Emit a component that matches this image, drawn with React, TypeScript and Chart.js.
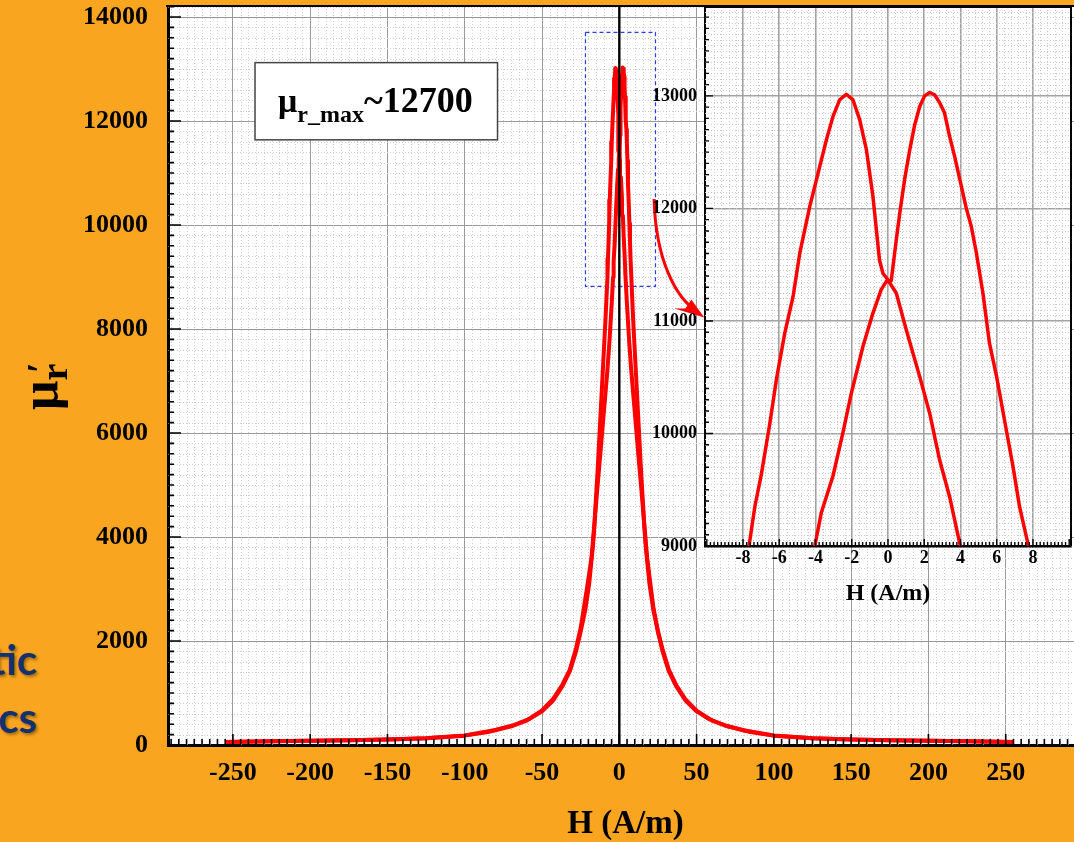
import React, { useEffect, useRef } from "react";
import { Chart, registerables } from "chart.js";

Chart.register(...registerables);

const SERIF = "'Liberation Serif', 'Times New Roman', serif";

// ---- data: branch with field increasing (peak near +2.3 A/m)
const upH = [-255, -225, -200, -175, -150, -125, -100, -85, -70, -60, -50, -43, -37, -32, -28, -25, -22, -19.5, -17, -15.7, -14.3, -13, -11.7, -10.3, -9, -7.6, -6.3, -5, -4.04, -3.68, -3.04, -2.49, -2.02, -1.38, -0.83, -0.37, -0.1, 0.18, 0.46, 0.65, 0.92, 1.2, 1.47, 1.75, 2.02, 2.3, 2.57, 2.85, 3.12, 3.4, 3.68, 3.96, 4.3, 4.6, 4.88, 5.24, 5.6, 6.0, 6.53, 6.9, 7.26, 7.72, 9, 10.5, 12.6, 14, 16, 18, 22, 25, 28, 32, 37, 43, 50, 58, 69, 80, 100, 125, 150, 175, 200, 225, 255];
const upMu = [60, 70, 80, 90, 104, 128, 180, 250, 360, 470, 650, 850, 1120, 1420, 1800, 2180, 2600, 3100, 3850, 4400, 4900, 5350, 5800, 6300, 6750, 7250, 7800, 8450, 9000, 9296, 9620, 10006, 10360, 10775, 11070, 11280, 11350, 11360, 11725, 11960, 12260, 12520, 12740, 12905, 13000, 13030, 13010, 12940, 12850, 12640, 12460, 12260, 12015, 11838, 11602, 11246, 10802, 10500, 10031, 9705, 9349, 9024, 8150, 7300, 6100, 5300, 4300, 3600, 2650, 2180, 1840, 1450, 1140, 870, 660, 500, 370, 285, 182, 130, 105, 90, 80, 70, 60];

// ---- data: branch with field decreasing (peak near -2.3 A/m)
const downH = [255, 225, 200, 175, 150, 125, 100, 85, 70, 60, 50, 43, 37, 32, 28, 25, 22, 19.5, 17, 15.7, 14.3, 13, 11.7, 10.3, 9, 7.6, 6.3, 5, 3.96, 3.4, 2.85, 2.3, 1.75, 1.01, 0.46, 0, -0.28, -0.47, -0.83, -1.19, -1.56, -1.93, -2.3, -2.67, -3.04, -3.4, -3.86, -4.32, -4.87, -5.24, -5.7, -6.16, -6.52, -6.98, -7.35, -7.67, -9, -10.5, -12.6, -14, -16, -18, -21, -25, -28, -32, -37, -43, -50, -58, -69, -80, -100, -125, -150, -175, -200, -225, -255];
const downMu = [60, 70, 80, 90, 104, 128, 180, 250, 360, 470, 650, 850, 1120, 1420, 1800, 2180, 2600, 3100, 3850, 4400, 4900, 5350, 5800, 6300, 6750, 7250, 7800, 8450, 9024, 9438, 9764, 10180, 10505, 10920, 11246, 11364, 11424, 11542, 12105, 12520, 12787, 12964, 13015, 12964, 12816, 12609, 12313, 12016, 11602, 11216, 10890, 10480, 10091, 9646, 9349, 9000, 8150, 7300, 6100, 5300, 4300, 3600, 3000, 2250, 1860, 1450, 1150, 880, 665, 505, 375, 290, 185, 130, 105, 90, 80, 70, 60];

// ---- tick labels
const mainXTicks = [-250, -200, -150, -100, -50, 0, 50, 100, 150, 200, 250];
const mainYTicks = [0, 2000, 4000, 6000, 8000, 10000, 12000, 14000];
const insetXTicks = [-8, -6, -4, -2, 0, 2, 4, 6, 8];
const insetYTicks = [9000, 10000, 11000, 12000, 13000];

// ---- zoom window marker and H = 0 line (data coordinates)
const zoomBoxH = [-21.9, 23.4, 23.4, -21.9, -21.9];
const zoomBoxMu = [13706, 13706, 8821, 8821, 13706];
const zeroLineH = [0, 0];
const zeroLineMu = [0, 14212];

const pts = (xs: number[], ys: number[]) => xs.map((x, i) => ({ x, y: ys[i] }));
const isMultiple = (v: number, m: number) => Math.abs(v / m - Math.round(v / m)) < 1e-6;

function fillArea(chart: any) {
  const { ctx, chartArea: a } = chart;
  ctx.save();
  ctx.fillStyle = "#ffffff";
  ctx.fillRect(a.left, a.top, a.right - a.left, a.bottom - a.top);
  ctx.restore();
}

function drawDottedGrid(chart: any, xStep: number, xMajor: number, yStep: number, yMajor: number, color: string) {
  const { ctx, chartArea: a, scales } = chart;
  const x = scales.x, y = scales.y;
  ctx.save();
  ctx.beginPath();
  ctx.rect(a.left, a.top, a.right - a.left, a.bottom - a.top);
  ctx.clip();
  ctx.strokeStyle = color;
  ctx.lineWidth = 1;
  ctx.setLineDash([1, 2]);
  ctx.beginPath();
  for (let i = Math.ceil(x.min / xStep); i * xStep <= x.max; i++) {
    const v = i * xStep;
    if (isMultiple(v, xMajor)) continue;
    const px = Math.round(x.getPixelForValue(v)) + 0.5;
    ctx.moveTo(px, a.top);
    ctx.lineTo(px, a.bottom);
  }
  for (let i = Math.ceil(y.min / yStep); i * yStep <= y.max; i++) {
    const v = i * yStep;
    if (isMultiple(v, yMajor)) continue;
    const py = Math.round(y.getPixelForValue(v)) + 0.5;
    ctx.moveTo(a.left, py);
    ctx.lineTo(a.right, py);
  }
  ctx.stroke();
  ctx.restore();
}

function drawInwardTicks(chart: any, o: any) {
  const { ctx, chartArea: a, scales } = chart;
  const x = scales.x, y = scales.y;
  ctx.save();
  ctx.strokeStyle = "#000";
  ctx.lineWidth = o.width;
  ctx.beginPath();
  for (let i = Math.ceil(x.min / o.xMinor); i * o.xMinor <= x.max; i++) {
    const v = i * o.xMinor;
    const len = isMultiple(v, o.xMajor) ? o.xMajLen : o.xMinLen;
    const px = x.getPixelForValue(v);
    ctx.moveTo(px, a.bottom);
    ctx.lineTo(px, a.bottom - len);
  }
  for (let i = Math.ceil(y.min / o.yMinor); i * o.yMinor <= y.max; i++) {
    const v = i * o.yMinor;
    const len = isMultiple(v, o.yMajor) ? o.yMajLen : o.yMinLen;
    const py = y.getPixelForValue(v);
    ctx.moveTo(a.left, py);
    ctx.lineTo(a.left + len, py);
  }
  ctx.stroke();
  ctx.restore();
}

const mainPlugin = {
  id: "mainDecor",
  beforeDraw(chart: any) {
    fillArea(chart);
  },
  beforeDatasetsDraw(chart: any) {
    drawDottedGrid(chart, 5, 50, 200, 2000, "#cdcdcd");
  },
  afterDatasetsDraw(chart: any) {
    const { ctx, chartArea: a, scales } = chart;
    const x = scales.x, y = scales.y;
    drawInwardTicks(chart, { xMinor: 5, xMajor: 50, yMinor: 200, yMajor: 2000, xMinLen: 6, xMajLen: 11, yMinLen: 6, yMajLen: 13, width: 1.6 });
    // top frame line
    ctx.save();
    ctx.strokeStyle = "#000";
    ctx.lineWidth = 2;
    ctx.beginPath();
    ctx.moveTo(a.left - 2, a.top);
    ctx.lineTo(a.right, a.top);
    ctx.stroke();
    ctx.restore();

    // curved red arrow pointing at the inset
    const P = (h: number, m: number) => [x.getPixelForValue(h), y.getPixelForValue(m)];
    const [sx, sy] = P(22.5, 10500);
    const [c1x, c1y] = P(23.5, 9350);
    const [c2x, c2y] = P(36, 8600);
    const [ex, ey] = P(55, 8220);
    ctx.save();
    ctx.strokeStyle = "#ff0000";
    ctx.fillStyle = "#ff0000";
    ctx.lineWidth = 3;
    ctx.beginPath();
    ctx.moveTo(sx, sy);
    ctx.bezierCurveTo(c1x, c1y, c2x, c2y, ex - 6, ey - 5);
    ctx.stroke();
    ctx.beginPath();
    ctx.moveTo(ex, ey);
    ctx.lineTo(ex - 30, ey - 9);
    ctx.lineTo(ex - 19, ey - 9);
    ctx.lineTo(ex - 13, ey - 18);
    ctx.closePath();
    ctx.fill();
    ctx.restore();

    // annotation box
    const [bl, bt] = P(-235.7, 13123);
    const [br, bb] = P(-78.8, 11638);
    ctx.save();
    ctx.fillStyle = "#ffffff";
    ctx.fillRect(bl, bt, br - bl, bb - bt);
    ctx.strokeStyle = "#444";
    ctx.lineWidth = 1.5;
    ctx.strokeRect(bl, bt, br - bl, bb - bt);
    ctx.fillStyle = "#000";
    ctx.textBaseline = "alphabetic";
    ctx.textAlign = "left";
    let tx = bl + 23;
    const base = bt + 49;
    ctx.font = `bold 34px ${SERIF}`;
    ctx.fillText("μ", tx, base);
    tx += ctx.measureText("μ").width;
    ctx.font = `bold 24px ${SERIF}`;
    ctx.fillText("r_max", tx, base + 10);
    tx += ctx.measureText("r_max").width;
    ctx.font = `bold 36px ${SERIF}`;
    ctx.fillText("~12700", tx, base);
    ctx.restore();
  },
  afterDraw(chart: any) {
    const { ctx } = chart;
    ctx.save();
    ctx.translate(57, 410);
    ctx.rotate(-Math.PI / 2);
    ctx.fillStyle = "#000";
    ctx.textAlign = "left";
    ctx.textBaseline = "alphabetic";
    ctx.font = `bold 52px ${SERIF}`;
    ctx.fillText("μ", 0, 0);
    const w = ctx.measureText("μ").width;
    ctx.font = `bold 38px ${SERIF}`;
    ctx.fillText("r", w, 10);
    const w2 = ctx.measureText("r").width;
    ctx.fillText("′", w + w2 * 0.45, -4);
    ctx.restore();
  },
};

const insetPlugin = {
  id: "insetDecor",
  beforeDraw(chart: any) {
    fillArea(chart);
  },
  beforeDatasetsDraw(chart: any) {
    drawDottedGrid(chart, 0.4, 2, 50, 1000, "#c8c8c8");
  },
  afterDatasetsDraw(chart: any) {
    const { ctx, chartArea: a } = chart;
    drawInwardTicks(chart, { xMinor: 0.2, xMajor: 2, yMinor: 100, yMajor: 1000, xMinLen: 4, xMajLen: 7, yMinLen: 4, yMajLen: 8, width: 1.4 });
    ctx.save();
    ctx.strokeStyle = "#000";
    ctx.lineWidth = 2;
    ctx.beginPath();
    ctx.moveTo(a.right, a.top);
    ctx.lineTo(a.right, a.bottom);
    ctx.moveTo(a.left, a.top);
    ctx.lineTo(a.right, a.top);
    ctx.stroke();
    ctx.restore();
  },
};

const tickFont = (size: number) => ({ family: SERIF, weight: "bold" as const, size });

function fixAxisX(height: number) {
  return (s: any) => {
    s.height = height;
    s.paddingLeft = 0;
    s.paddingRight = 0;
    s.paddingTop = 0;
    s.paddingBottom = 0;
  };
}
function fixAxisY(width: number) {
  return (s: any) => {
    s.width = width;
    s.paddingLeft = 0;
    s.paddingRight = 0;
    s.paddingTop = 0;
    s.paddingBottom = 0;
  };
}

export default function App() {
  const mainRef = useRef<HTMLCanvasElement>(null);
  const insetRef = useRef<HTMLCanvasElement>(null);

  useEffect(() => {
    const curveDatasets = (width: number) => [
      {
        data: pts(upH, upMu),
        showLine: true,
        borderColor: "#ff0000",
        borderWidth: width,
        pointRadius: 0,
        tension: 0,
        borderJoinStyle: "round" as const,
        order: 1,
      },
      {
        data: pts(downH, downMu),
        showLine: true,
        borderColor: "#ff0000",
        borderWidth: width,
        pointRadius: 0,
        tension: 0,
        borderJoinStyle: "round" as const,
        order: 1,
      },
    ];

    const main = new Chart(mainRef.current as HTMLCanvasElement, {
      type: "scatter",
      data: {
        datasets: [
          {
            data: pts(zeroLineH, zeroLineMu),
            showLine: true,
            borderColor: "#000",
            borderWidth: 2.4,
            pointRadius: 0,
            order: 0,
          },
          ...curveDatasets(4),
          {
            data: pts(zoomBoxH, zoomBoxMu),
            showLine: true,
            borderColor: "#2a3cf0",
            borderWidth: 1.2,
            borderDash: [4, 3],
            pointRadius: 0,
            order: 2,
          },
        ],
      },
      options: {
        animation: false,
        responsive: false,
        maintainAspectRatio: false,
        devicePixelRatio: 1,
        layout: { padding: { left: 0, right: 7, top: 6, bottom: 0 } },
        plugins: { legend: { display: false }, tooltip: { enabled: false } },
        scales: {
          x: {
            type: "linear",
            min: -292,
            max: 300,
            afterBuildTicks: (s: any) => {
              s.ticks = mainXTicks.map((v) => ({ value: v }));
            },
            afterFit: fixAxisX(97),
            grid: { color: "#9a9a9a", lineWidth: 1, drawTicks: false },
            border: { color: "#000", width: 3 },
            ticks: {
              padding: 13,
              color: "#000",
              font: tickFont(26),
              maxRotation: 0,
              autoSkip: false,
              callback: (v: any) => String(v),
            },
            title: {
              display: true,
              text: "H (A/m)",
              color: "#000",
              font: { family: SERIF, weight: "bold", size: 33, lineHeight: 1 },
              padding: { top: 0, bottom: 1 },
            },
          },
          y: {
            type: "linear",
            min: 0,
            max: 14212,
            afterBuildTicks: (s: any) => {
              s.ticks = mainYTicks.map((v) => ({ value: v }));
            },
            afterFit: fixAxisY(168),
            grid: { color: "#9a9a9a", lineWidth: 1, drawTicks: false },
            border: { color: "#000", width: 3 },
            ticks: {
              padding: 20,
              color: "#000",
              font: tickFont(26),
              autoSkip: false,
              callback: (v: any) => String(v),
            },
          },
        },
      },
      plugins: [mainPlugin],
    } as any);

    const inset = new Chart(insetRef.current as HTMLCanvasElement, {
      type: "scatter",
      data: { datasets: curveDatasets(3.5) },
      options: {
        animation: false,
        responsive: false,
        maintainAspectRatio: false,
        devicePixelRatio: 1,
        layout: { padding: { left: 0, right: 3, top: 7, bottom: 0 } },
        plugins: { legend: { display: false }, tooltip: { enabled: false } },
        scales: {
          x: {
            type: "linear",
            min: -10.1,
            max: 10.1,
            afterBuildTicks: (s: any) => {
              s.ticks = insetXTicks.map((v) => ({ value: v }));
            },
            afterFit: fixAxisX(69),
            grid: { color: "#a3a3a3", lineWidth: 1.6, drawTicks: false },
            border: { color: "#000", width: 2.4 },
            ticks: {
              padding: 2,
              color: "#000",
              font: tickFont(18),
              maxRotation: 0,
              autoSkip: false,
              callback: (v: any) => String(v),
            },
            title: {
              display: true,
              text: "H (A/m)",
              color: "#000",
              font: { family: SERIF, weight: "bold", size: 24, lineHeight: 1 },
              padding: { top: 0, bottom: 9 },
            },
          },
          y: {
            type: "linear",
            min: 9000,
            max: 13790,
            afterBuildTicks: (s: any) => {
              s.ticks = insetYTicks.map((v) => ({ value: v }));
            },
            afterFit: fixAxisY(75),
            grid: { color: "#a3a3a3", lineWidth: 1.6, drawTicks: false },
            border: { color: "#000", width: 2 },
            ticks: {
              padding: 8,
              color: "#000",
              font: tickFont(18),
              autoSkip: false,
              callback: (v: any) => String(v),
            },
          },
        },
      },
      plugins: [insetPlugin],
    } as any);

    return () => {
      main.destroy();
      inset.destroy();
    };
  }, []);

  const sideText: React.CSSProperties = {
    position: "absolute",
    left: -120,
    width: 157,
    textAlign: "right",
    fontFamily: "Lato, 'Open Sans', sans-serif",
    fontWeight: 700,
    fontSize: 42,
    lineHeight: "42px",
    color: "#13306f",
    textShadow: "2px 2px 3px rgba(0,0,0,0.35)",
    whiteSpace: "nowrap",
  };

  return (
    <div
      style={{
        position: "fixed",
        left: 0,
        top: 0,
        width: 1074,
        height: 842,
        overflow: "hidden",
        background: "#F9A51F",
      }}
    >
      <div style={{ ...sideText, top: 638 }}>tic</div>
      <div style={{ ...sideText, top: 696 }}>cs</div>
      <canvas
        ref={mainRef}
        width={1090}
        height={842}
        style={{ position: "absolute", left: 0, top: 0, display: "block" }}
      />
      <canvas
        ref={insetRef}
        width={444}
        height={615}
        style={{ position: "absolute", left: 630, top: 0, display: "block" }}
      />
    </div>
  );
}
